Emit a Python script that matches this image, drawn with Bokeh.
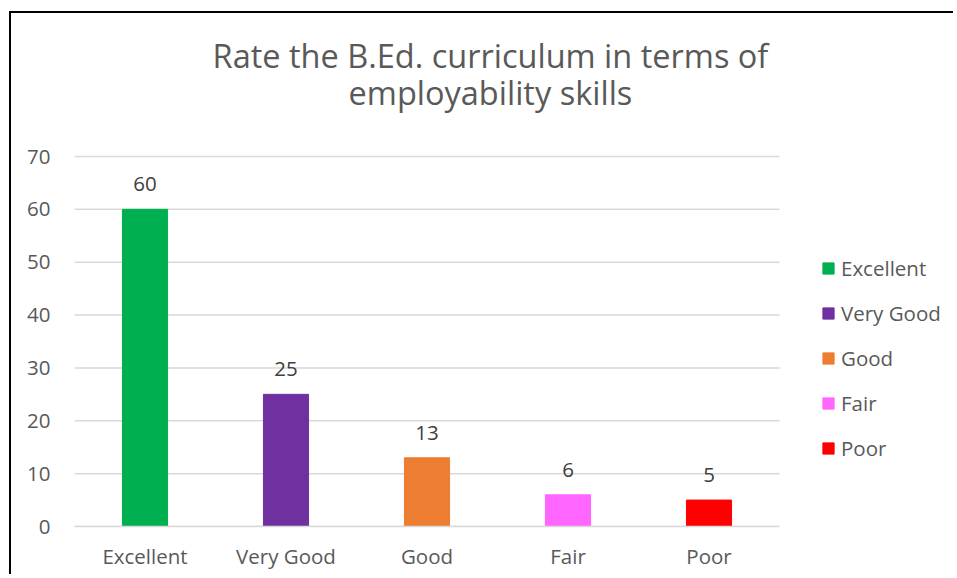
from bokeh.plotting import figure
from bokeh.models import (ColumnDataSource, Range1d, FixedTicker, Label,
                          LabelSet, Legend, LegendItem)
from bokeh.core.properties import value
from bokeh.embed import file_html
from bokeh.resources import INLINE

categories = ["Excellent", "Very Good", "Good", "Fair", "Poor"]
values = [60, 25, 13, 6, 5]
colors = ["#00B050", "#7030A0", "#ED7D31", "#FF66FF", "#FF0000"]
y_ticks = [0, 10, 20, 30, 40, 50, 60, 70]
title_lines = ["Rate the B.Ed. curriculum in terms of", "employability skills"]

FONT = "Open Sans"
GREY = "#595959"
GRID = "#d9d9d9"
FS = "20.5px"

xs = [i + 0.5 for i in range(len(categories))]
src = ColumnDataSource(dict(x=xs, cat=categories, val=values, color=colors,
                            txt=[str(v) for v in values]))

W, H = 944, 563
LEFT, BOTTOM = 63, 50
fw, fh = W - LEFT, H - BOTTOM
px_per_cat = 141.0
px_per_unit = 370.0 / 70.0
p = figure(x_range=Range1d(0, fw / px_per_cat), y_range=Range1d(0, fh / px_per_unit),
           width=W, height=H, output_backend="svg", toolbar_location=None,
           min_border_left=LEFT, min_border_right=0,
           min_border_top=0, min_border_bottom=BOTTOM)
p.styles = {"border-left": "2px solid black", "border-top": "2px solid black",
            "margin-top": "11px", "margin-left": "9px"}
p.outline_line_color = None
p.xgrid.grid_line_color = None
p.ygrid.grid_line_color = None

# horizontal gridlines across the category span
n = len(categories)
p.segment(x0=[0] * len(y_ticks), x1=[n] * len(y_ticks), y0=y_ticks, y1=y_ticks,
          line_color=GRID, line_width=1.5)

r = p.vbar(x="x", top="val", width=0.32, color="color", source=src)

labels = LabelSet(x="x", y="val", text="txt", source=src, y_offset=18,
                  text_align="center", text_baseline="alphabetic",
                  text_font=value(FONT), text_font_size=value(FS),
                  text_color="#404040")
p.add_layout(labels)

# axes
p.yaxis.ticker = FixedTicker(ticks=y_ticks)
p.xaxis.ticker = FixedTicker(ticks=xs)
p.xaxis.major_label_overrides = {x: c for x, c in zip(xs, categories)}
for ax in (p.xaxis[0], p.yaxis[0]):
    ax.major_tick_line_color = None
    ax.minor_tick_line_color = None
    ax.major_label_text_font = FONT
    ax.major_label_text_font_size = FS
    ax.major_label_text_color = GREY
p.yaxis.axis_line_color = None
p.xaxis.axis_line_color = GRID
p.xaxis.axis_line_width = 1.5
p.xaxis.bounds = (0, n)
p.yaxis.major_label_standoff = 18
p.xaxis.major_label_standoff = 9

# title lines
for txt, yb in zip(title_lines, [89.2, 82.2]):
    p.add_layout(Label(x=2.95, y=yb, text=txt, text_align="center",
                       text_baseline="alphabetic", text_font=FONT,
                       text_font_size="32.5px", text_color=GREY))

# legend
items = [LegendItem(label=c, renderers=[r], index=i) for i, c in enumerate(categories)]
leg = Legend(items=items, location=(747, 64), orientation="vertical",
             glyph_width=14, glyph_height=14, label_standoff=6,
             label_text_font=FONT, label_text_font_size=FS,
             label_text_color=GREY, label_height=26, spacing=17,
             padding=0, margin=0, border_line_color=None,
             background_fill_alpha=0)
p.add_layout(leg, "center")

open("out.html", "w").write(file_html(p, INLINE))
